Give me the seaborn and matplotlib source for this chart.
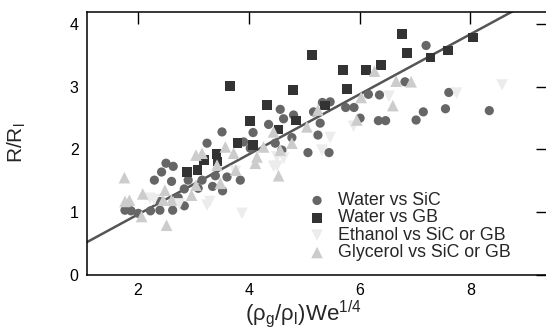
import numpy as np
import pandas as pd
import matplotlib
matplotlib.use("Agg")
import matplotlib.pyplot as plt
import seaborn as sns

# ---- data ----
water_sic_x = [1.77, 1.88, 2.01, 2.23, 2.40, 2.63, 2.84, 2.40, 2.73, 2.84, 2.30, 2.61, 2.91, 3.16,
               3.40, 3.61, 3.85, 2.43, 2.51, 2.64, 3.25, 3.52, 3.09, 3.35, 3.53, 3.91, 4.03, 4.08,
               4.36, 4.48, 4.60, 4.78, 4.57, 4.63, 4.81, 5.07, 5.45, 5.25, 5.29, 5.17, 5.33, 5.47,
               5.75, 5.90, 6.01, 6.16, 6.36, 6.34, 6.47, 6.82, 7.02, 7.15, 7.20, 7.55, 7.61, 8.34]
water_sic_y = [1.03, 1.02, 0.98, 1.02, 1.03, 1.03, 1.10, 1.17, 1.23, 1.37, 1.51, 1.49, 1.51, 1.51,
               1.58, 1.56, 1.51, 1.64, 1.78, 1.73, 2.10, 2.28, 1.38, 1.41, 1.34, 2.12, 2.02, 2.27,
               2.40, 2.10, 1.99, 2.19, 2.64, 2.49, 2.55, 1.95, 1.95, 2.23, 2.42, 2.60, 2.75, 2.76,
               2.67, 2.67, 2.50, 2.88, 2.87, 2.46, 2.46, 3.08, 2.47, 2.60, 3.66, 2.65, 2.91, 2.62]

water_gb_x = [2.89, 3.08, 3.20, 3.44, 3.42, 3.80, 4.08, 4.03, 4.54, 4.85, 4.33, 5.38, 4.80, 5.77,
              3.66, 5.14, 5.70, 6.12, 6.39, 6.77, 6.86, 7.28, 7.59, 8.05]
water_gb_y = [1.64, 1.67, 1.83, 1.81, 1.93, 2.10, 2.07, 2.45, 2.32, 2.46, 2.71, 2.70, 2.95, 2.97,
              3.01, 3.51, 3.27, 3.27, 3.35, 3.84, 3.54, 3.47, 3.58, 3.79]

ethanol_x = [2.22, 2.30, 2.75, 3.25, 3.30, 3.88, 3.76, 4.45, 4.51, 4.63, 4.51, 5.32, 5.47, 5.89,
             6.53, 7.75, 8.57]
ethanol_y = [1.22, 1.20, 1.13, 1.11, 1.17, 0.98, 1.65, 1.73, 1.88, 1.86, 1.73, 1.99, 2.19, 2.37,
             2.85, 2.90, 3.03]

glycerol_x = [1.76, 1.77, 1.85, 2.09, 2.07, 2.52, 2.49, 2.46, 2.61, 2.97, 3.05, 3.05, 3.16, 3.43,
              3.58, 3.49, 3.73, 3.77, 4.12, 4.15, 4.27, 4.45, 4.78, 4.57, 4.54, 5.05, 5.25, 5.95,
              6.03, 6.27, 6.60, 6.66, 6.93]
glycerol_y = [1.55, 1.17, 1.19, 1.29, 0.93, 0.79, 1.35, 1.19, 1.19, 1.27, 1.43, 1.91, 1.94, 1.75,
              2.04, 1.46, 1.94, 1.67, 1.78, 1.88, 2.04, 2.28, 2.10, 1.99, 1.58, 2.36, 2.63, 2.47,
              2.83, 3.25, 2.70, 3.09, 3.08]

series_names = ["Water vs SiC", "Water vs GB", "Ethanol vs SiC or GB", "Glycerol vs SiC or GB"]
fit_x = [1.0, 9.5]
fit_slope = 0.48

x_ticks = [2, 4, 6, 8]
y_ticks = [0, 1, 2, 3, 4]

# ---- styling ----
sns.set_style("white")
plt.rcParams["font.family"] = ["Liberation Sans", "DejaVu Sans"]
plt.rcParams["mathtext.fontset"] = "custom"
plt.rcParams["mathtext.rm"] = "Liberation Sans"
plt.rcParams["mathtext.it"] = "Liberation Sans:italic"

colors = {series_names[0]: "#666666", series_names[1]: "#333333",
          series_names[2]: "#ececec", series_names[3]: "#cccccc"}
markers = {series_names[0]: "o", series_names[1]: "s",
           series_names[2]: "v", series_names[3]: "^"}
sizes = {series_names[0]: 44, series_names[1]: 48, series_names[2]: 70, series_names[3]: 70}

frames = []
for name, xs, ys in zip(series_names,
                        [water_sic_x, water_gb_x, ethanol_x, glycerol_x],
                        [water_sic_y, water_gb_y, ethanol_y, glycerol_y]):
    frames.append(pd.DataFrame({"x": xs, "y": ys, "series": name}))
df = pd.concat(frames, ignore_index=True)

fig = plt.figure(figsize=(5.46, 3.33), dpi=100)
ax = fig.add_axes([0.1588, 0.175, 0.845, 0.790])

fx = np.array(fit_x)
sns.lineplot(x=fx, y=fit_slope * fx, ax=ax, color="#555555", linewidth=1.8, zorder=1)

for name in series_names:
    sub = df[df["series"] == name]
    sns.scatterplot(data=sub, x="x", y="y", ax=ax, marker=markers[name],
                    color=colors[name], s=sizes[name], edgecolor="none",
                    label=name, zorder=2)

ax.set_xlim(1.08, 9.4)
ax.set_ylim(0, 4.2)
ax.set_xticks(x_ticks)
ax.set_yticks(y_ticks)
ax.tick_params(direction="in", length=8.5, width=1.0, top=True, right=True,
               labelsize=11.5, pad=5.8, colors="black")
for sp in ax.spines.values():
    sp.set_color("black")
    sp.set_linewidth(1.1)

ax.set_xlabel(r"(ρ$_\mathregular{g}$/ρ$_\mathregular{l}$)We$^\mathregular{1/4}$", fontsize=16)
ax.xaxis.set_label_coords(0.469, -0.092)
ax.set_ylabel(r"R/R$_\mathregular{l}$", fontsize=15)
ax.yaxis.set_label_coords(-0.127, 0.503)

leg = ax.legend(loc="upper left", bbox_to_anchor=(0.48, 0.314), frameon=False,
                fontsize=12.8, handlelength=1.0, handletextpad=0.68, labelspacing=0.02,
                borderpad=0, borderaxespad=0)

fig.savefig("out.png", dpi=100)
